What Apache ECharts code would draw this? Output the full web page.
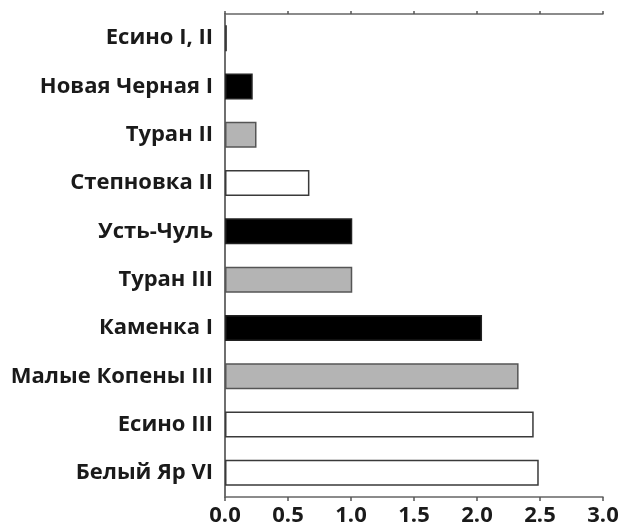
<!DOCTYPE html>
<html>
<head>
<meta charset="utf-8">
<script src="https://cdn.jsdelivr.net/npm/echarts@6/dist/echarts.min.js"></script>
<style>html,body{margin:0;padding:0;background:#fff;}#c{width:628px;height:528px;}</style>
</head>
<body>
<div id="c"></div>
<script>
const categories = ['Есино I, II','Новая Черная I','Туран II','Степновка II','Усть-Чуль','Туран III','Каменка I','Малые Копены III','Есино III','Белый Яр VI'];
const values = [0.015, 0.22, 0.25, 0.67, 1.01, 1.01, 2.04, 2.33, 2.45, 2.49];
const groups = ['white','black','gray','white','black','gray','black','gray','white','white'];
const xTicks = [0, 0.5, 1.0, 1.5, 2.0, 2.5, 3.0];

const fills = {white:'#ffffff', black:'#000000', gray:'#b4b4b4'};
const borders = {white:'#3a3a3a', black:'#222222', gray:'#555555'};

const chart = echarts.init(document.getElementById('c'), null, {renderer:'canvas'});
const axisLine = {show:true, lineStyle:{color:'#666', width:1.5}};
chart.setOption({
  animation:false,
  grid:{left:225, right:25, top:14, bottom:31, containLabel:false},
  xAxis:[{
    type:'value', min:xTicks[0], max:xTicks[xTicks.length-1], interval:0.5, position:'bottom',
    axisLine:axisLine,
    axisTick:{show:true, length:4, lineStyle:{color:'#555', width:1.5}},
    splitLine:{show:false},
    axisLabel:{margin:8, fontFamily:'Open Sans', fontWeight:700, fontSize:22, color:'#1a1a1a',
      formatter:v=>v.toFixed(1)}
  },{
    type:'value', min:xTicks[0], max:xTicks[xTicks.length-1], interval:0.5, position:'top',
    axisLine:axisLine,
    axisTick:{show:true, length:3, lineStyle:{color:'#555', width:1.5}},
    splitLine:{show:false}, axisLabel:{show:false}
  }],
  yAxis:[{
    type:'category', data:categories, inverse:true,
    axisLine:axisLine, axisTick:{show:false},
    axisLabel:{margin:12, fontFamily:'Open Sans', fontWeight:700, fontSize:22, color:'#1a1a1a'}
  },{
    type:'category', data:categories, inverse:true, position:'right',
    axisLine:axisLine, axisTick:{show:false}, axisLabel:{show:false}
  }],
  series:[{
    type:'bar', xAxisIndex:0, yAxisIndex:0,
    barWidth:26,
    data:values.map((v,i)=>({value:v, itemStyle:{color:fills[groups[i]], borderColor:borders[groups[i]], borderWidth:1.5}}))
  }]
});
</script>
</body>
</html>
